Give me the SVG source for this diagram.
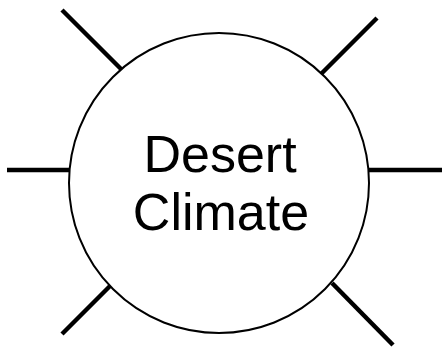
<svg xmlns="http://www.w3.org/2000/svg" width="442" height="347" viewBox="0 0 442 347">
<style>
.ray{stroke:#000;stroke-width:4.5;fill:none}
.node{fill:#fff;stroke:#000;stroke-width:2}
.label{font-family:"Liberation Sans",Arial,sans-serif;font-size:52px;fill:#000;text-anchor:middle}
</style>
<rect width="442" height="347" fill="#fff"/>
<g id="connectors">
<line class="ray" x1="62" y1="10" x2="122" y2="70"/>
<line class="ray" x1="377" y1="18" x2="321" y2="74"/>
<line class="ray" x1="7" y1="170" x2="70" y2="170"/>
<line class="ray" x1="369" y1="170" x2="442" y2="170"/>
<line class="ray" x1="110" y1="286" x2="62" y2="334"/>
<line class="ray" x1="332" y1="283" x2="393" y2="345"/>
</g>
<g id="desert-climate">
<circle class="node" cx="219" cy="183" r="150"/>
<text class="label" x="220" y="172">Desert</text>
<text class="label" x="221" y="230">Climate</text>
</g>
</svg>
